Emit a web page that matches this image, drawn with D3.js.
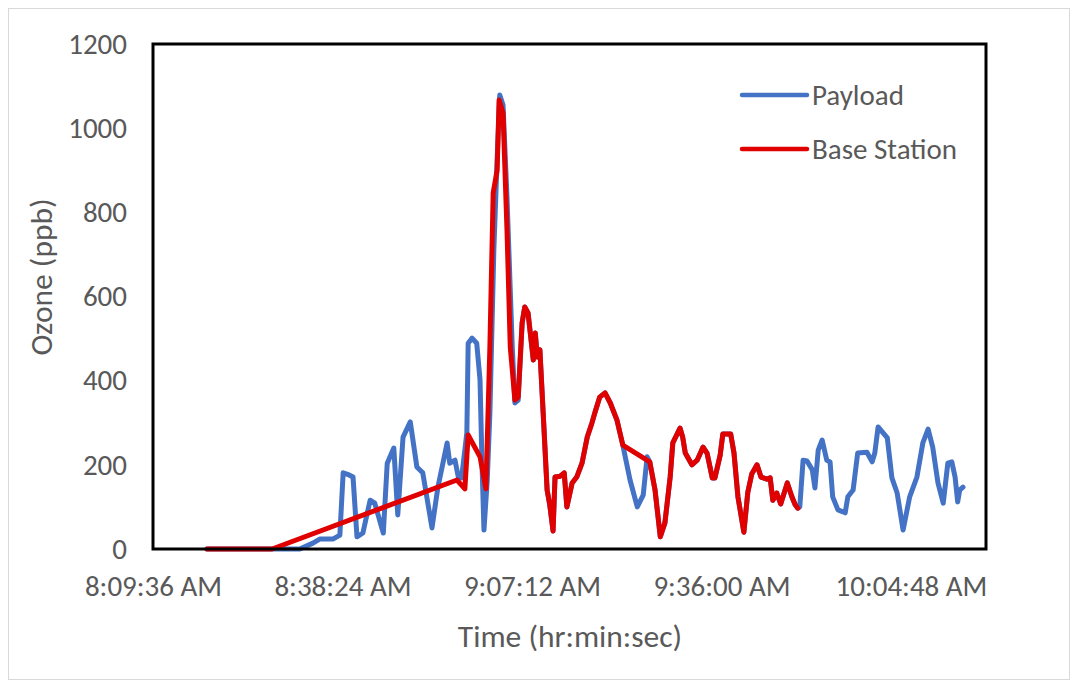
<!DOCTYPE html>
<html>
<head>
<meta charset="utf-8">
<script src="https://cdn.jsdelivr.net/npm/d3@7"></script>
<style>
  html, body { margin: 0; padding: 0; background: #ffffff; }
  svg { display: block; }
  text { font-family: Carlito, Lato, "Open Sans", sans-serif; fill: #595959; }
</style>
</head>
<body>
<svg id="chart" width="1078" height="688"></svg>
<script>
// Time values are minutes after 8:00:00 AM
const payloadMinutes = [17.8,31.9,33.9,35.0,37.0,38.0,38.5,39.4,40.0,40.6,41.5,42.6,43.3,44.6,45.2,46.2,46.8,47.6,48.7,49.7,50.6,52.0,52.9,54.3,54.7,55.5,56.0,56.5,57.3,57.5,58.1,58.8,59.3,59.6,59.9,60.4,60.8,61.4,61.9,62.3,62.8,63.4,64.2,64.6,65.1,
  65.7,66.1,66.6,67.4,67.7,68.0,68.4,68.9,69.5,69.9,70.4,70.7,71.5,72.1,72.5,73.3,74.0,74.8,75.6,76.3,76.8,77.5,78.3,79.1,80.1,81.0,
  82.1,83.2,84.1,84.7,85.1,
  85.9,86.7,87.4,88.2,88.6,89.7,90.1,90.5,91.5,92.3,93.2,93.8,94.6,95.0,95.8,96.2,97.4,97.9,98.5,99.4,100.0,100.6,101.4,102.0,102.9,103.4,103.8,104.4,105.0,106.0,106.7,107.2,107.6,
  107.9,108.4,109.0,109.8,110.2,110.7,111.3,112.0,112.5,112.9,113.7,114.8,115.2,116.0,116.7,118.1,118.9,119.3,119.8,121.2,121.9,122.7,123.6,124.6,125.7,126.6,127.4,128.1,128.9,129.7,130.4,131.0,131.5,131.9,132.2,132.7];
const payloadOzone = [0,0,14,24,24,33,181,176,171,29,38,116,109,38,204,240,81,266,302,195,181,50,147,252,204,211,171,169,276,489,501,489,402,204,45,164,323,710,924,1079,1055,836,480,347,354,
  537,575,561,449,513,456,473,323,140,105,43,171,173,181,100,157,171,204,266,299,326,361,371,347,307,247,
  164,100,128,219,207,
  140,29,62,171,252,287,266,228,200,211,242,228,169,169,223,273,273,228,124,40,135,178,200,171,166,169,116,133,107,157,124,105,97,
  100,211,209,188,145,235,259,211,207,124,93,86,124,140,228,230,207,228,290,264,169,133,45,124,171,252,285,242,157,109,204,207,171,112,140,147];

const baseMinutes = [17.8,27.7,55.8,57.0,57.5,59.3,60.2,60.8,61.3,61.9,62.2,62.8,63.4,63.9,64.6,65.1,65.7,66.1,66.6,67.4,67.7,68.0,68.4,68.9,69.5,69.9,70.4,70.7,71.5,72.1,72.5,73.3,74.0,74.8,75.6,76.3,76.8,77.5,78.3,79.1,80.1,81.0,85.1,85.9,86.7,87.4,88.2,88.6,89.7,90.1,90.5,91.5,92.3,93.2,93.8,94.6,95.0,95.8,96.2,97.4,97.9,98.5,99.4,100.0,100.6,101.4,102.0,102.9,103.4,103.8,104.4,105.0,106.0,106.7,107.2,107.6];
const baseOzone = [0,0,164,143,271,219,143,480,846,900,1067,1036,758,480,354,361,537,575,561,449,513,456,473,323,140,105,43,171,173,181,100,157,171,204,266,299,326,361,371,347,307,247,207,140,29,62,171,252,287,266,228,200,211,242,228,169,169,223,273,273,228,124,40,135,178,200,171,166,169,116,133,107,157,124,105,97];

const seriesNames = ["Payload", "Base Station"];
const seriesColors = ["#4472c4", "#e00000"];
const xTickLabels = ["8:09:36 AM", "8:38:24 AM", "9:07:12 AM", "9:36:00 AM", "10:04:48 AM"];
const xDomainLabels = ["8:09:36 AM", "10:16:12 AM"];
const yTicks = [0, 200, 400, 600, 800, 1000, 1200];
const xTitle = "Time (hr:min:sec)";
const yTitle = "Ozone (ppb)";

const parseClock = d3.timeParse("%I:%M:%S %p");
const base = parseClock("8:00:00 AM");
const toDate = m => new Date(base.getTime() + m * 60000);

const svg = d3.select("#chart");
const W = 1078, H = 688;
const plot = { left: 153, right: 986, top: 44, bottom: 549 };
const tickFont = "29px";
const titleFont = "31.5px";

// outer chart border
svg.append("rect").attr("x", 8.5).attr("y", 8.5).attr("width", W - 17).attr("height", H - 17)
  .attr("fill", "#fff").attr("stroke", "#d9d9d9").attr("stroke-width", 1);

const x = d3.scaleTime().domain(xDomainLabels.map(parseClock)).range([plot.left, plot.right]);
const y = d3.scaleLinear().domain([0, 1200]).range([plot.bottom, plot.top]);

// y axis labels
const yAxis = d3.axisLeft(y).tickValues(yTicks).tickSize(0).tickPadding(26).tickFormat(d3.format("d"));
const gy = svg.append("g").attr("transform", `translate(${plot.left},0)`).call(yAxis);
gy.select(".domain").remove();
gy.selectAll("text").style("font-size", tickFont).attr("fill", "#595959").style("font-family", null);

// x axis labels
const xAxis = d3.axisBottom(x).tickValues(xTickLabels.map(parseClock)).tickSize(0).tickPadding(26)
  .tickFormat(d => xTickLabels[xTickLabels.map(s => parseClock(s).getTime()).indexOf(d.getTime())]);
const gx = svg.append("g").attr("transform", `translate(0,${plot.bottom})`).call(xAxis);
gx.select(".domain").remove();
gx.selectAll("text").style("font-size", tickFont).attr("fill", "#595959").style("font-family", null);

// series
const line = d3.line().x(d => x(toDate(d[0]))).y(d => y(d[1]));
const series = [
  d3.zip(payloadMinutes, payloadOzone),
  d3.zip(baseMinutes, baseOzone)
];
series.forEach((s, i) => {
  svg.append("path").datum(s).attr("d", line).attr("fill", "none")
    .attr("stroke", seriesColors[i]).attr("stroke-width", 5)
    .attr("stroke-linejoin", "round").attr("stroke-linecap", "round");
});

// plot border
svg.append("rect").attr("x", plot.left).attr("y", plot.top)
  .attr("width", plot.right - plot.left).attr("height", plot.bottom - plot.top)
  .attr("fill", "none").attr("stroke", "#000").attr("stroke-width", 3);

// axis titles
svg.append("text").attr("x", 570).attr("y", 636).attr("text-anchor", "middle")
  .attr("dominant-baseline", "central").style("font-size", titleFont).text(xTitle);
svg.append("text").attr("transform", "translate(41,277) rotate(-90)").attr("text-anchor", "middle")
  .attr("dominant-baseline", "central").style("font-size", titleFont).text(yTitle);

// legend
const legend = svg.append("g");
seriesNames.forEach((n, i) => {
  const ly = 95 + i * 54;
  legend.append("line").attr("x1", 742).attr("x2", 807).attr("y1", ly).attr("y2", ly)
    .attr("stroke", seriesColors[i]).attr("stroke-width", 4.5).attr("stroke-linecap", "round");
  legend.append("text").attr("x", 812).attr("y", ly).attr("dominant-baseline", "central")
    .style("font-size", tickFont).text(n);
});
</script>
</body>
</html>
